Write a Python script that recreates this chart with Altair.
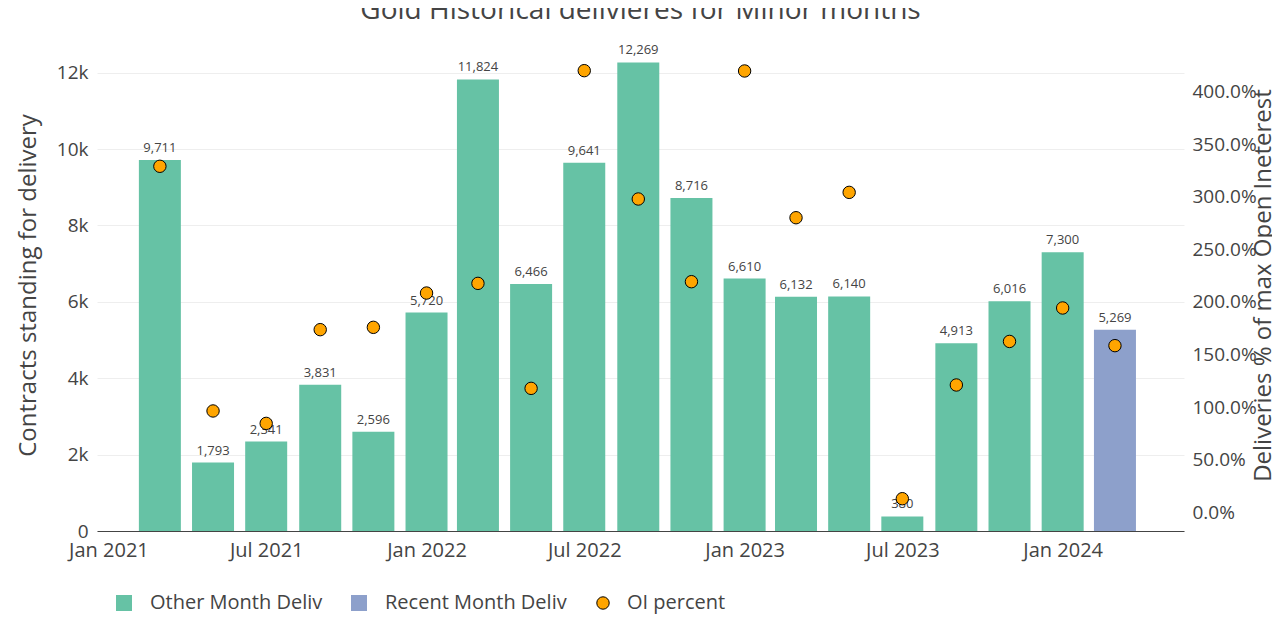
import altair as alt
import pandas as pd

# ---- data ----
dates = ["2021-03-01", "2021-05-01", "2021-07-01", "2021-09-01", "2021-11-01",
         "2022-01-01", "2022-03-01", "2022-05-01", "2022-07-01", "2022-09-01",
         "2022-11-01", "2023-01-01", "2023-03-01", "2023-05-01", "2023-07-01",
         "2023-09-01", "2023-11-01", "2024-01-01", "2024-03-01"]
deliveries = [9711, 1793, 2341, 3831, 2596, 5720, 11824, 6466, 9641, 12269,
              8716, 6610, 6132, 6140, 380, 4913, 6016, 7300, 5269]
oi_percent = [329.0, 96.4, 84.6, 173.7, 175.9, 208.5, 217.7, 117.9, 419.9, 297.9,
              219.3, 419.6, 280.1, 304.2, 13.0, 121.1, 162.5, 194.3, 158.5]
kind = ["Other Month Deliv", "Other Month Deliv", "Other Month Deliv", "Other Month Deliv",
        "Other Month Deliv", "Other Month Deliv", "Other Month Deliv", "Other Month Deliv",
        "Other Month Deliv", "Other Month Deliv", "Other Month Deliv", "Other Month Deliv",
        "Other Month Deliv", "Other Month Deliv", "Other Month Deliv", "Other Month Deliv",
        "Other Month Deliv", "Other Month Deliv", "Recent Month Deliv"]
kind_names = ["Other Month Deliv", "Recent Month Deliv"]
kind_colors = ["#66c2a5", "#8da0cb"]
oi_name = "OI percent"

df = pd.DataFrame({"date": dates, "deliv": deliveries, "oi": oi_percent,
                   "kind": kind, "oiname": [oi_name] * len(dates)})

FONT = "Open Sans"
TXT = "#444444"

x_tick_values = [alt.DateTime(year=y, month=m, date=1, utc=True)
                 for y, m in [(2021, 1), (2021, 7), (2022, 1), (2022, 7),
                              (2023, 1), (2023, 7), (2024, 1)]]
x_scale = alt.Scale(domain=[alt.DateTime(year=2020, month=12, date=24, hours=14, utc=True),
                            alt.DateTime(year=2024, month=5, date=13, hours=12, utc=True)])
x_enc = alt.X("date:T", scale=x_scale, title=None,
              axis=alt.Axis(values=x_tick_values,
                            labelExpr="utcFormat(datum.value, '%b %Y')",
                            labelFont=FONT, labelFontSize=20, labelColor=TXT,
                            labelPadding=9, ticks=False, grid=False,
                            domain=True, domainColor=TXT, domainWidth=1.2))

y_left_scale = alt.Scale(domain=[0, 12882], nice=False, zero=False)

bars = alt.Chart(df).mark_bar(size=42).encode(
    x=x_enc,
    y=alt.Y("deliv:Q", scale=y_left_scale,
            axis=alt.Axis(values=[0, 2000, 4000, 6000, 8000, 10000, 12000],
                          labelExpr="datum.value == 0 ? '0' : format(datum.value / 1000, 'd') + 'k'",
                          title="Contracts standing for delivery",
                          titleFont=FONT, titleFontSize=24, titleFontWeight="normal",
                          titleColor=TXT, titleAngle=270, titleAlign="center",
                          titleBaseline="middle", titleX=-69, titleY=246,
                          labelFont=FONT, labelFontSize=19, labelColor=TXT,
                          labelPadding=9, domain=False, ticks=False,
                          grid=True, gridColor="#eeeeee", gridWidth=1)),
    color=alt.Color("kind:N",
                    scale=alt.Scale(domain=kind_names, range=kind_colors),
                    legend=alt.Legend(orient="none", legendX=17, legendY=554,
                                      direction="horizontal", title=None,
                                      symbolType="square", symbolSize=256,
                                      symbolStrokeWidth=0, symbolOpacity=1,
                                      labelFont=FONT, labelFontSize=20, labelColor=TXT,
                                      labelLimit=400, labelOffset=16, columnPadding=26,
                                      padding=0)),
)

labels = alt.Chart(df).mark_text(font=FONT, fontSize=13, color=TXT,
                                 baseline="alphabetic", dy=-8).encode(
    x=alt.X("date:T", scale=x_scale),
    y=alt.Y("deliv:Q", scale=y_left_scale),
    text=alt.Text("deliv:Q", format=","),
)

points = alt.Chart(df).mark_point(filled=True, size=154, stroke="black",
                                  strokeWidth=1, opacity=1).encode(
    x=alt.X("date:T", scale=x_scale),
    y=alt.Y("oi:Q", scale=alt.Scale(domain=[-17.7, 450], nice=False, zero=False),
            axis=alt.Axis(orient="right", values=[0, 50, 100, 150, 200, 250, 300, 350, 400],
                          labelExpr="format(datum.value, '.1f') + '%'",
                          title="Deliveries % of max Open Ineterest",
                          titleFont=FONT, titleFontSize=24, titleFontWeight="normal",
                          titleColor=TXT, titleAngle=270, titleAlign="center",
                          titleBaseline="middle", titleX=79, titleY=246,
                          labelFont=FONT, labelFontSize=19, labelColor=TXT,
                          labelPadding=8, domain=False, ticks=False, grid=False)),
    fill=alt.Fill("oiname:N", scale=alt.Scale(domain=[oi_name], range=["#ffa500"]),
                  legend=alt.Legend(orient="none", legendX=496, legendY=554,
                                    title=None, symbolType="circle", symbolSize=154,
                                    symbolStrokeColor="black", symbolStrokeWidth=1,
                                    labelFont=FONT, labelFontSize=20, labelColor=TXT,
                                    labelLimit=400, labelOffset=14, padding=0)),
)

chart = alt.layer(alt.layer(bars, labels), points).resolve_scale(
    y="independent"
).properties(
    width=1087, height=492,
    background="white",
    title=alt.TitleParams("Gold Historical delivieres for Minor months",
                          font=FONT, fontSize=28, fontWeight="normal", color=TXT,
                          anchor="middle", frame="group", baseline="alphabetic",
                          offset=20, dy=28),
    autosize=alt.AutoSizeParams(type="none"),
    padding={"left": 89, "top": 31, "right": 88, "bottom": 102},
).configure_view(strokeWidth=0, stroke="transparent")

chart.save("out.html", embed_options={"renderer": "svg", "actions": False})
